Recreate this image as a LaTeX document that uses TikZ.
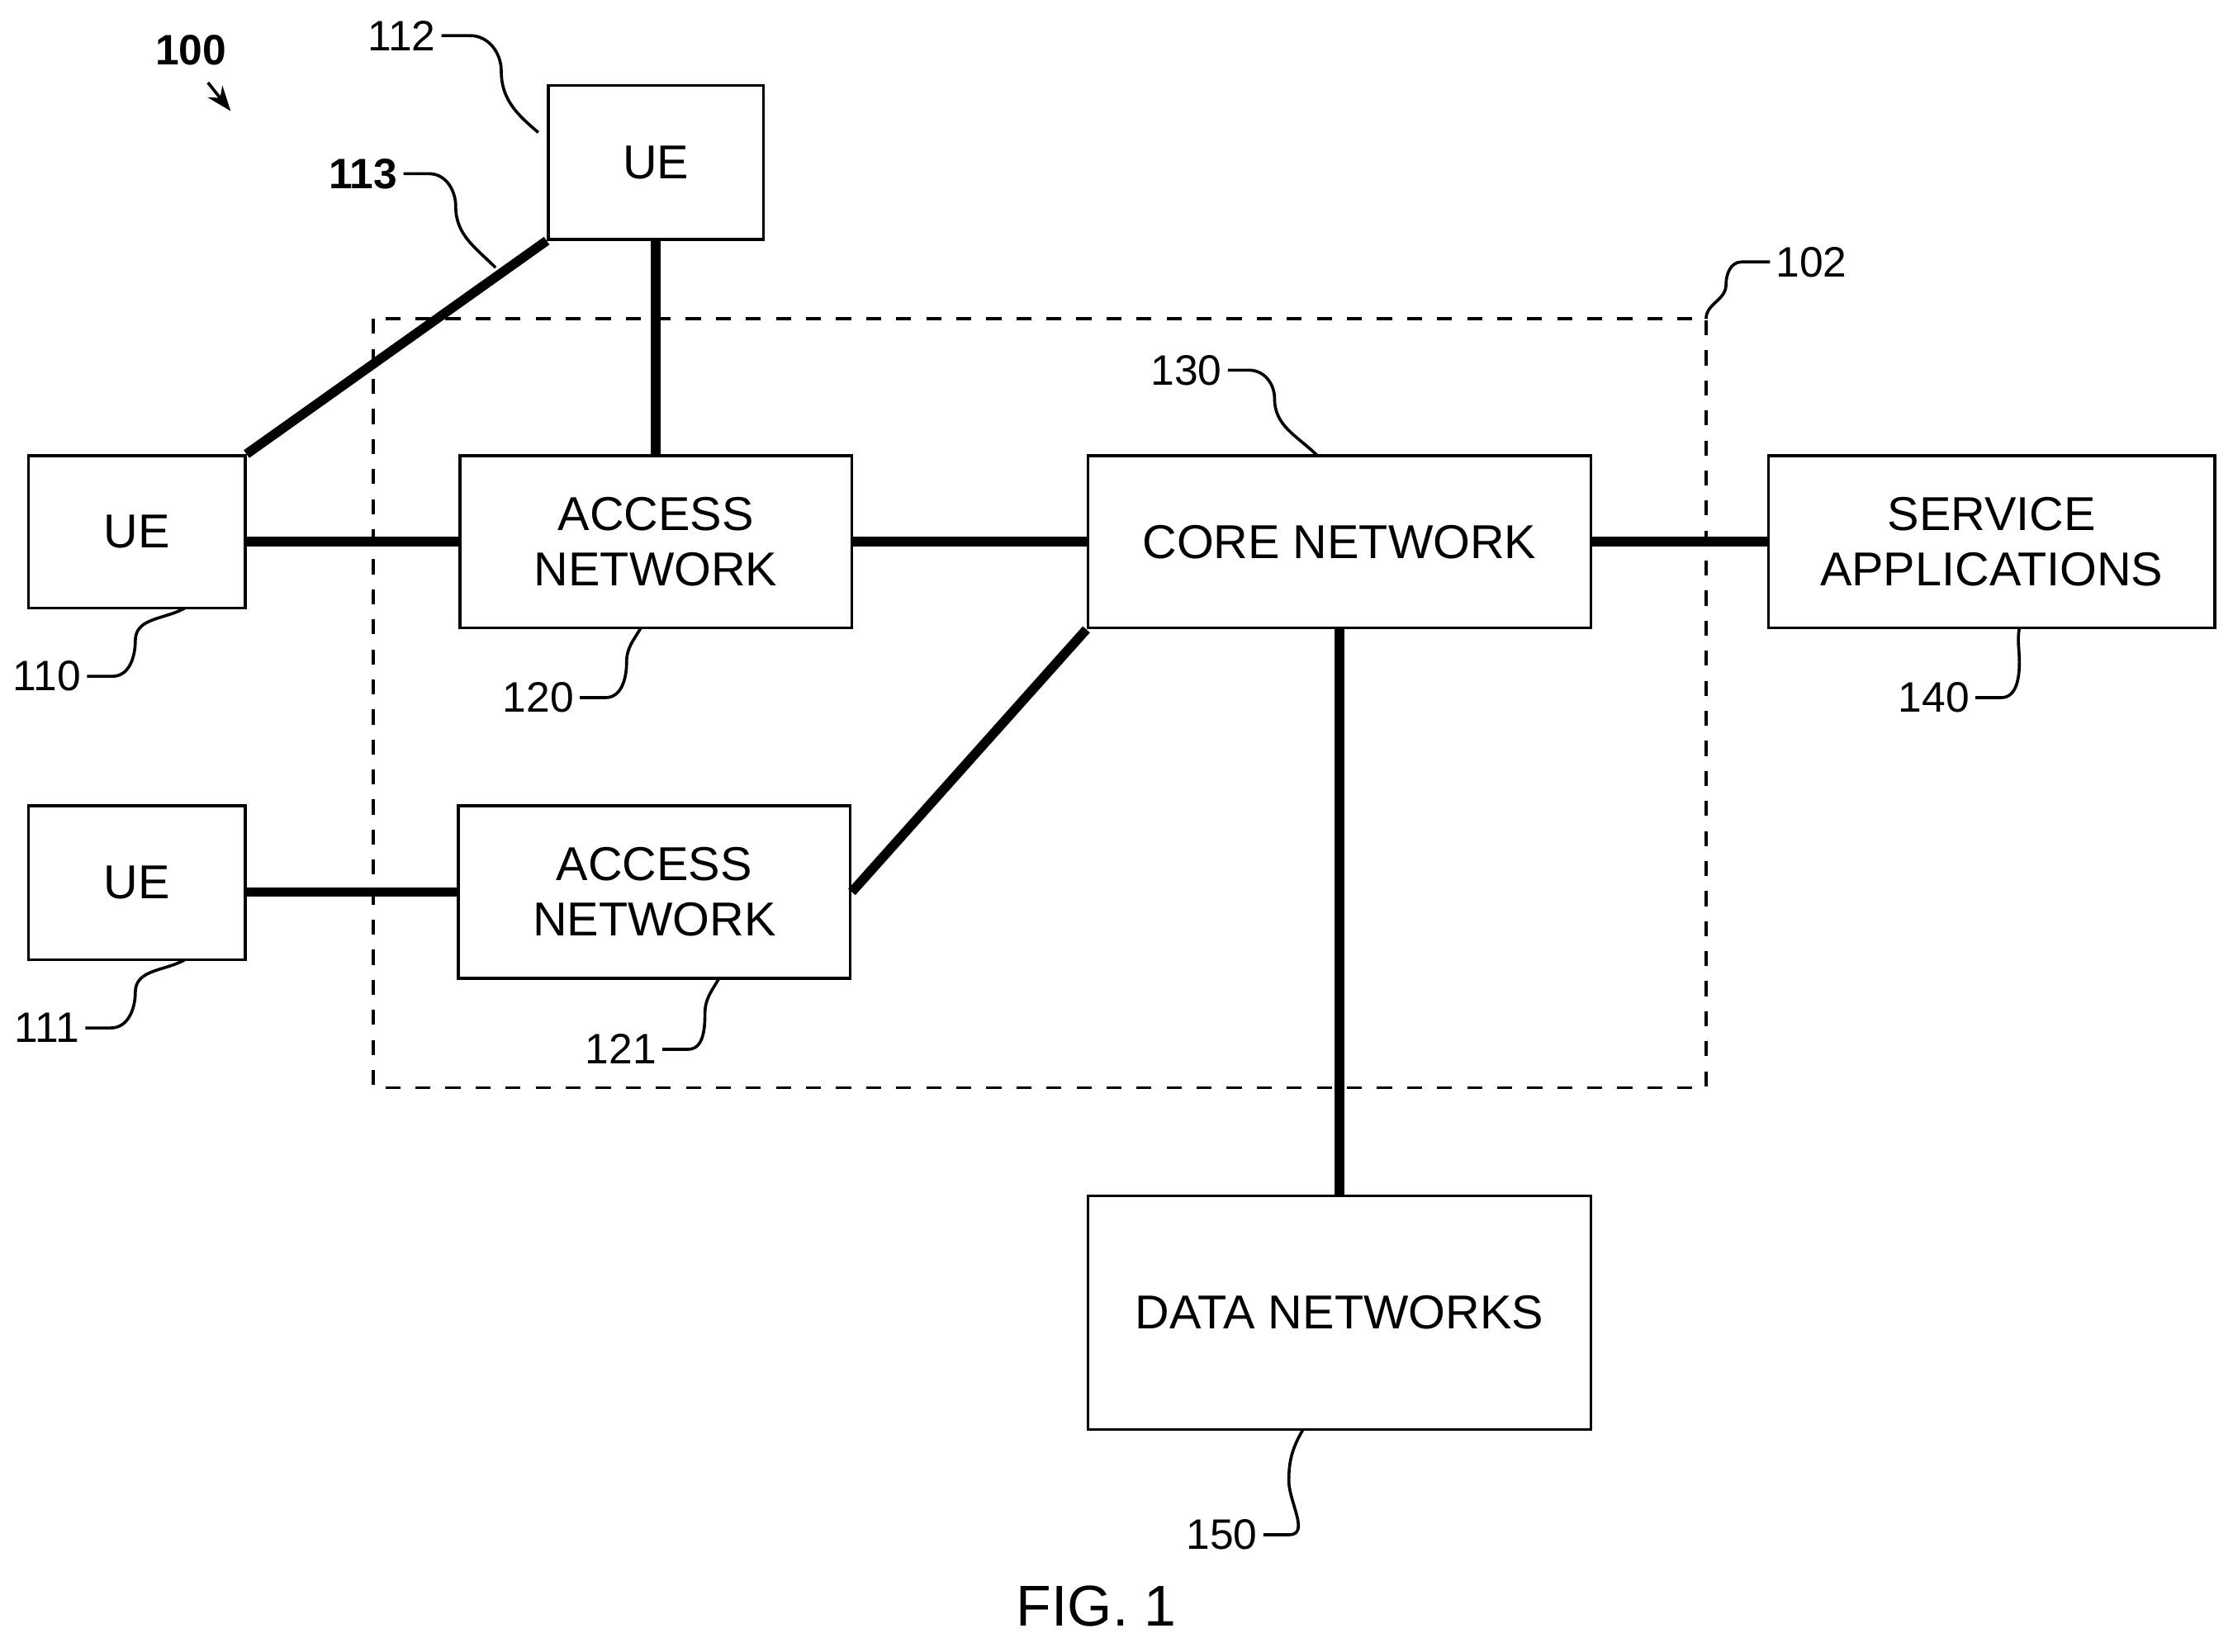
\documentclass[tikz,border=0pt]{standalone}
\usepackage{fontspec}
\setmainfont{Liberation Sans}
\usetikzlibrary{positioning,arrows.meta}
\tikzset{
  box/.style={rectangle, draw=black, line width=0.6pt, align=center, font=\fontsize{9.5}{11}\selectfont, inner sep=0pt},
  link/.style={line width=1.9pt},
  lead/.style={line width=0.6pt},
  refno/.style={font=\fontsize{8.5}{10}\selectfont, inner sep=1pt}
}
\begin{document}
\begin{tikzpicture}[x=0.01cm,y=-0.01cm]
\useasboundingbox (0,0) rectangle (1568,1160);

% boundary 102
\draw[dashed, line width=0.6pt] (262,224) rectangle (1198,764);

% blocks
\node[box, minimum width=1.51cm, minimum height=1.08cm] (ue112) at (460.5,114) {UE};
\node[box, minimum width=1.52cm, minimum height=1.07cm] (ue110) at (96,373.5) {UE};
\node[box, minimum width=1.52cm, minimum height=1.08cm] (ue111) at (96,620) {UE};
\node[box, minimum width=2.75cm, minimum height=1.21cm] (an120) at (460.5,380.5) {ACCESS\\NETWORK};
\node[box, minimum width=2.75cm, minimum height=1.21cm] (an121) at (459.5,626.5) {ACCESS\\NETWORK};
\node[box, minimum width=3.53cm, minimum height=1.21cm] (cn130) at (940.5,380.5) {CORE NETWORK};
\node[box, minimum width=3.13cm, minimum height=1.21cm] (sa140) at (1398.5,380.5) {SERVICE\\APPLICATIONS};
\node[box, minimum width=3.53cm, minimum height=1.64cm] (dn150) at (940.5,922) {DATA NETWORKS};

% links
\draw[link] (ue112.south west) -- (ue110.north east);
\draw[link] (ue112.south) -- (an120.north);
\draw[link] (an120.west -| ue110.east) -- (an120.west);
\draw[link] (an121.west -| ue111.east) -- (an121.west);
\draw[link] (an120.east) -- (an120.east -| cn130.west);
\draw[link] (an121.east) -- (cn130.south west);
\draw[link] (cn130.east) -- (cn130.east -| sa140.west);
\draw[link] (cn130.south) -- (dn150.north);

% reference numerals
\node[refno, font=\bfseries\fontsize{8.5}{10}\selectfont] (r100) at (134,35) {100};
\draw[lead, -{Stealth[length=5pt]}] (146,58) -- (162,78);
\node[refno] (r112) at (282,25) {112};
\draw[lead] (r112.east) -- ++(20,0) to[out=0,in=90] (352,50) to[out=-90,in=140] (378,93);
\node[refno, font=\bfseries\fontsize{8.5}{10}\selectfont] (r113) at (255,122) {113};
\draw[lead] (r113.east) -- ++(18,0) to[out=0,in=90] (320,145) to[out=-90,in=135] (348,188);
\node[refno] (r102) at (1272,184) {102};
\draw[lead] (r102.west) -- ++(-20,0) to[out=180,in=90] (1212,200) to[out=-90,in=90] (1198,224);
\node[refno] (r130) at (833,260) {130};
\draw[lead] (r130.east) -- ++(15,0) to[out=0,in=90] (895,280) to[out=-90,in=135] (925,320);
\node[refno] (r110) at (33,475) {110};
\draw[lead] (r110.east) -- ++(18,0) to[out=0,in=-90] (95,450) to[out=90,in=-150] (130,427);
\node[refno] (r120) at (378,490) {120};
\draw[lead] (r120.east) -- ++(18,0) to[out=0,in=-90] (440,465) to[out=90,in=-120] (450,441);
\node[refno] (r140) at (1358,490) {140};
\draw[lead] (r140.east) -- ++(18,0) to[out=0,in=-90] (1418,465) to[out=90,in=-100] (1418,441);
\node[refno] (r111) at (33,722) {111};
\draw[lead] (r111.east) -- ++(18,0) to[out=0,in=-90] (95,697) to[out=90,in=-150] (130,674);
\node[refno] (r121) at (436,737) {121};
\draw[lead] (r121.east) -- ++(18,0) to[out=0,in=-90] (495,712) to[out=90,in=-120] (505,687);
\node[refno] (r150) at (858,1078) {150};
\draw[lead] (r150.east) -- ++(18,0) to[out=0,in=-90] (905,1040) to[out=90,in=-120] (915,1004);

\node[font=\fontsize{11.5}{13}\selectfont] (fig) at (770,1128) {FIG. 1};
\end{tikzpicture}
\end{document}
